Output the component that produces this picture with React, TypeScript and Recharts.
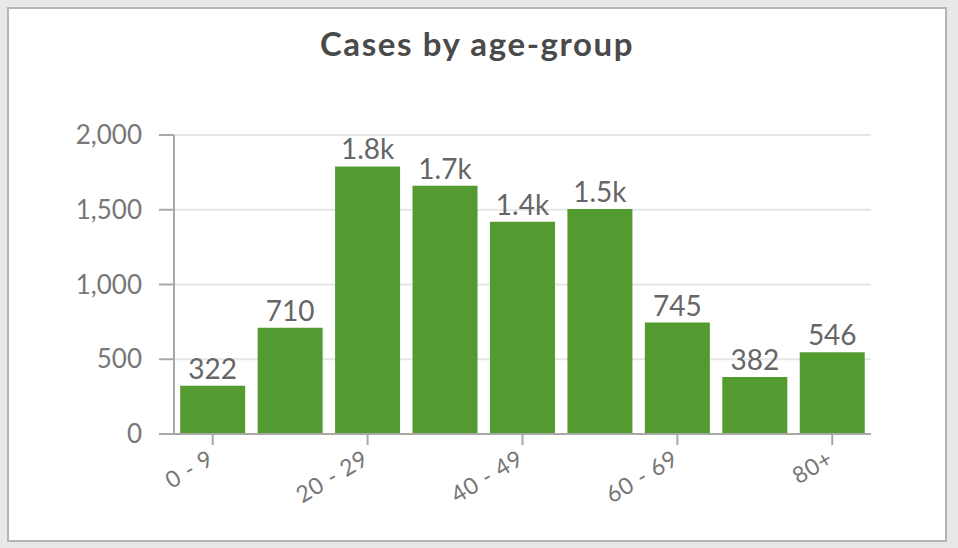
import React from "react";
import { BarChart, Bar, XAxis, YAxis, CartesianGrid, LabelList } from "recharts";

const ageGroups = ["0 - 9", "10 - 19", "20 - 29", "30 - 39", "40 - 49", "50 - 59", "60 - 69", "70 - 79", "80+"];
const cases = [322, 710, 1790, 1660, 1420, 1505, 745, 382, 546];
const yTicks = [0, 500, 1000, 1500, 2000];

const data = ageGroups.map((group, i) => ({ group, cases: cases[i] }));

const FONT = "Lato, 'Noto Sans', sans-serif";

function shortNumber(v: number) {
  if (v >= 1000) return (v / 1000).toFixed(1) + "k";
  return String(v);
}

function AngledTick(props: any) {
  const { x, y, payload } = props;
  return (
    <g transform={`translate(${x},${y})`}>
      <text
        x={0}
        y={0}
        dy={15}
        dx={-6}
        textAnchor="end"
        transform="rotate(-31)"
        fill="#777"
        fontSize={23}
        letterSpacing={0.8}
        fontFamily={FONT}
      >
        {payload.value}
      </text>
    </g>
  );
}

export default function App() {
  return (
    <div style={{ position: "absolute", left: 0, top: 0, width: 958, height: 548, background: "#e8e8e8" }}>
      <div
        style={{
          position: "absolute",
          left: 7,
          top: 7,
          width: 940,
          height: 535,
          boxSizing: "border-box",
          border: "2px solid #b5b5b5",
          background: "#fff",
        }}
      />
      <div
        style={{
          position: "absolute",
          left: 0,
          top: 23,
          width: 954,
          textAlign: "center",
          fontFamily: FONT,
          fontWeight: 700,
          fontSize: 33,
          letterSpacing: 1.6,
          color: "#4a4a4a",
        }}
      >
        Cases by age-group
      </div>
      <div style={{ position: "absolute", left: 0, top: 0 }}>
        <BarChart
          width={958}
          height={548}
          data={data}
          margin={{ top: 135, right: 87, left: 0, bottom: 0 }}
          barCategoryGap="8%"
        >
          <CartesianGrid vertical={false} stroke="#e6e6e6" strokeWidth={2} />
          <XAxis
            dataKey="group"
            height={114}
            interval={1}
            tick={<AngledTick />}
            tickSize={11}
            axisLine={{ stroke: "#a8a8a8", strokeWidth: 2 }}
            tickLine={{ stroke: "#a8a8a8", strokeWidth: 2 }}
          />
          <YAxis
            width={174}
            domain={[0, 2000]}
            ticks={yTicks}
            interval={0}
            tickFormatter={(v: number) => v.toLocaleString("en-US")}
            tickSize={15}
            tickMargin={17}
            tick={{ fill: "#777", fontSize: 26, fontFamily: FONT }}
            axisLine={{ stroke: "#a8a8a8", strokeWidth: 2 }}
            tickLine={{ stroke: "#a8a8a8", strokeWidth: 2 }}
          />
          <Bar dataKey="cases" fill="#539b31" isAnimationActive={false}>
            <LabelList
              dataKey="cases"
              position="top"
              offset={7}
              formatter={(v: any) => shortNumber(Number(v))}
              fill="#666"
              fontSize={28}
              fontFamily={FONT}
            />
          </Bar>
        </BarChart>
      </div>
    </div>
  );
}
